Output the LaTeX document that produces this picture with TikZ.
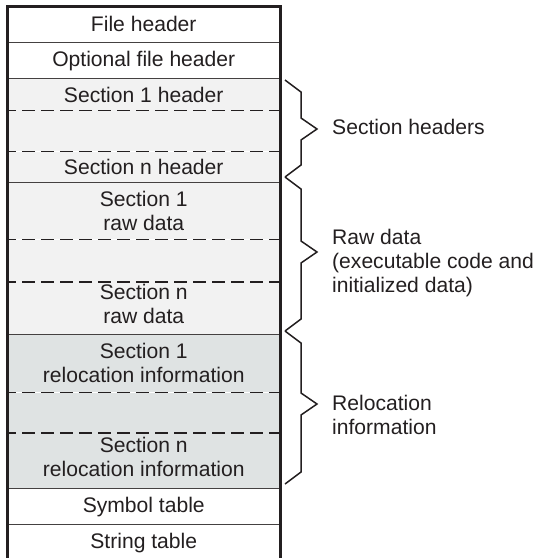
\documentclass[tikz,border=0pt]{standalone}
\usepackage{fontspec}
\setmainfont{Liberation Sans}
\usetikzlibrary{positioning}

\definecolor{hdrgray}{HTML}{F2F2F2}
\definecolor{relgray}{HTML}{DFE3E3}
\definecolor{ink}{HTML}{231F20}

% angular brace: top end, tip, bottom end (y values)
\newcommand{\angbrace}[3]{%
  \draw[brace] (285,#1) -- (301,{#1+12}) -- (301,{#2-11}) -- (317,#2)
    -- (301,{#2+11}) -- (301,{#3-12}) -- (285,#3);}

\begin{document}
\begin{tikzpicture}[x=1pt,y=-1pt,node distance=0pt,
    every node/.style={font=\fontsize{21.1}{24}\selectfont,text=ink},
    row/.style={minimum width=272.5pt,minimum height=#1,inner sep=0pt,align=center,fill=white},
    hdr/.style={fill=hdrgray},
    rel/.style={fill=relgray},
    divide/.style={draw=ink!85,line width=1pt},
    dashdiv/.style={draw=ink,line width=1.4pt,dash pattern=on 13pt off 6pt,dash phase=4pt},
    frame/.style={draw=ink,line width=3pt,line join=miter},
    brace/.style={draw=ink,line width=1.5pt,line join=miter},
    note/.style={anchor=base west,align=left,inner sep=0pt}]
	\useasboundingbox (0,0) rectangle (538,558);

	% the file layout, top to bottom
	\node[row=36pt,anchor=north](fh) at (143.75,6) {File header};
	\node[row=36pt,below=of fh](ofh) {Optional file header};
	\node[row=31pt,hdr,below=of ofh](s1h) {Section 1 header};
	\node[row=41pt,hdr,below=of s1h](hgap) {};
	\node[row=30pt,hdr,below=of hgap](snh) {Section n header};
	\node[row=57pt,hdr,below=of snh](s1r) {Section 1\\raw data};
	\node[row=42pt,hdr,below=of s1r](rgap) {};
	\node[row=52pt,hdr,below=of rgap](snr) {Section n\\raw data\rule[-8pt]{0pt}{8pt}};
	\node[row=58pt,rel,below=of snr](s1rel) {Section 1\\relocation information};
	\node[row=40pt,rel,below=of s1rel](relgap) {};
	\node[row=55pt,rel,below=of relgap](snrel) {Section n\\relocation information\rule[-8pt]{0pt}{8pt}};
	\node[row=36pt,below=of snrel](sym) {Symbol table};
	\node[row=37pt,below=of sym](str) {String table};

	% dividers
	\draw[divide] (fh.south west) -- (fh.south east);
	\draw[divide] (ofh.south west) -- (ofh.south east);
	\draw[dashdiv] (s1h.south west) -- (s1h.south east);
	\draw[dashdiv] (hgap.south west) -- (hgap.south east);
	\draw[divide] (snh.south west) -- (snh.south east);
	\draw[dashdiv] (s1r.south west) -- (s1r.south east);
	\draw[dashdiv] (rgap.south west) -- (rgap.south east);
	\draw[divide] (snr.south west) -- (snr.south east);
	\draw[dashdiv] (s1rel.south west) -- (s1rel.south east);
	\draw[dashdiv] (relgap.south west) -- (relgap.south east);
	\draw[divide] (snrel.south west) -- (snrel.south east);
	\draw[divide] (sym.south west) -- (sym.south east);
	\draw[divide,draw=ink!60] (str.south west) -- (str.south east);

	% outer frame, open at the bottom
	\draw[frame] (str.south west) -- (fh.north west) -- (fh.north east) -- (str.south east);

	% braces and their labels
	\angbrace{80}{129}{177}
	\angbrace{177}{252}{331}
	\angbrace{331}{404}{484}
	\node[note](hdrlbl) at (332,134) {Section headers};
	\node[note](rawlbl) at (332,292) {Raw data\\(executable code and\\initialized data)};
	\node[note](rellbl) at (332,434) {Relocation\\information};
\end{tikzpicture}
\end{document}
